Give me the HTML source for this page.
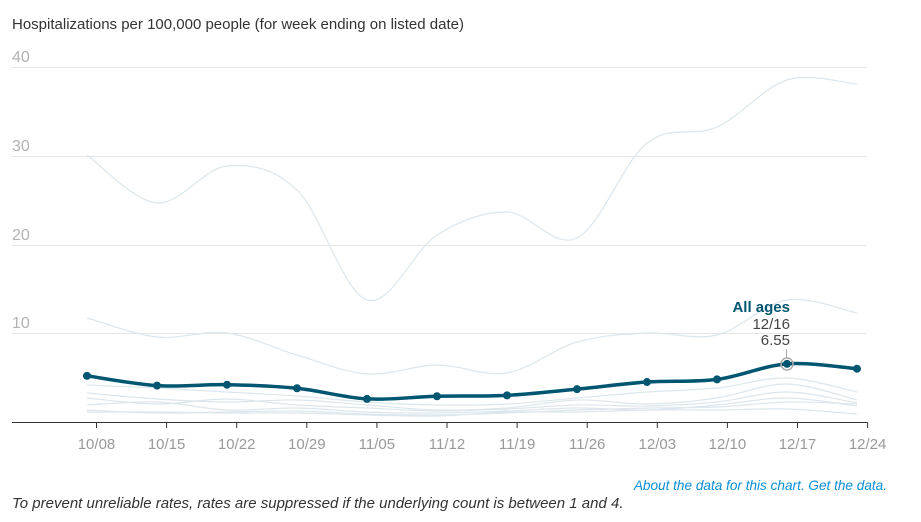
<!DOCTYPE html>
<html><head><meta charset="utf-8"><style>
body{margin:0;background:#fff;font-family:"Liberation Sans",Arial,sans-serif;}
svg{display:block}
</style></head><body>
<svg id="s" width="921" height="522" xmlns="http://www.w3.org/2000/svg" font-family="Liberation Sans, Arial, sans-serif">
<text x="12" y="29" font-size="15" fill="#333">Hospitalizations per 100,000 people (for week ending on listed date)</text>
<g stroke="#e6e6e6" stroke-width="1">
<line x1="12" x2="867" y1="67.5" y2="67.5"/>
<line x1="12" x2="867" y1="156.5" y2="156.5"/>
<line x1="12" x2="867" y1="245.5" y2="245.5"/>
<line x1="12" x2="867" y1="333.5" y2="333.5"/>
</g>
<g font-size="16" fill="#b3b3b3">
<text x="12" y="62">40</text><text x="12" y="151">30</text><text x="12" y="240">20</text><text x="12" y="328">10</text>
</g>
<g id="faint" fill="none" stroke="#dce6ec" stroke-width="1.2"></g>
<line x1="12" x2="867" y1="422.5" y2="422.5" stroke="#333" stroke-width="1"/>
<g id="ticks" stroke="#333"></g>
<g id="labels" font-size="15" fill="#999" text-anchor="middle"></g>
<g id="main"></g>
<text x="790" y="312" font-size="15" font-weight="bold" fill="#005670" text-anchor="end">All ages</text>
<text x="790" y="329" font-size="15" fill="#444" text-anchor="end">12/16</text>
<text x="790" y="345" font-size="15" fill="#444" text-anchor="end">6.55</text>
<line x1="786.5" x2="786.5" y1="349" y2="358" stroke="#aaa"/>
<circle cx="787" cy="364" r="6" fill="none" stroke="#aaa" stroke-width="1.5"/>
<text x="887" y="490" font-size="13.6" font-style="italic" fill="#0a8ed6" text-anchor="end">About the data for this chart. Get the data.</text>
<text x="12" y="508" font-size="15" font-style="italic" fill="#333">To prevent unreliable rates, rates are suppressed if the underlying count is between 1 and 4.</text>
</svg>
<script>
var NS="http://www.w3.org/2000/svg";
function path(pts){var d="M"+pts[0][0]+","+pts[0][1];for(var i=0;i<pts.length-1;i++){var p0=pts[i-1]||pts[i],p1=pts[i],p2=pts[i+1],p3=pts[i+2]||p2;var c1=[p1[0]+(p2[0]-p0[0])/6,p1[1]+(p2[1]-p0[1])/6],c2=[p2[0]-(p3[0]-p1[0])/6,p2[1]-(p3[1]-p1[1])/6];d+=" C"+c1+" "+c2+" "+p2;}return d;}
function mk(t,a,par){var e=document.createElementNS(NS,t);for(var k in a)e.setAttribute(k,a[k]);document.getElementById(par).appendChild(e);return e;}
var X=[];for(var i=0;i<12;i++)X.push(87+70*i);
var faint=[
[155,203,166,190,300,235,212,238,143,127,80,84],
[318,337,333,355,374,365,373,342,333,335,300,313],
[385,388,392,396,402,405,404,398,392,388,378,392],
[393,399,402,400,405,410,408,400,404,398,384,400],
[398,404,399,405,408,411,409,405,406,402,392,403],
[405,402,410,408,412,413,411,408,410,405,398,406],
[410,413,412,411,414,415,413,410,408,407,402,404],
[412,412,413,413,415,416,412,412,410,410,409,414]];
faint.forEach(function(r){mk("path",{d:path(r.map(function(v,i){return[X[i],v]}))},"faint");});
var lab=["10/08","10/15","10/22","10/29","11/05","11/12","11/19","11/26","12/03","12/10","12/17","12/24"];
for(var i=0;i<12;i++){var tx=96.5+70.1*i;mk("line",{x1:tx,x2:tx,y1:422,y2:428},"ticks");var t=mk("text",{x:tx,y:449},"labels");t.textContent=lab[i];}
var v=[5.2,4.1,4.2,3.8,2.6,2.9,3.0,3.7,4.5,4.8,6.55,6.0];
var mp=v.map(function(a,i){return[X[i],422-8.88*a]});
mk("path",{d:path(mp),fill:"none",stroke:"#005670","stroke-width":3.5},"main");
mp.forEach(function(p){mk("circle",{cx:p[0],cy:p[1],r:4,fill:"#005670"},"main");});
</script>
</body></html>
